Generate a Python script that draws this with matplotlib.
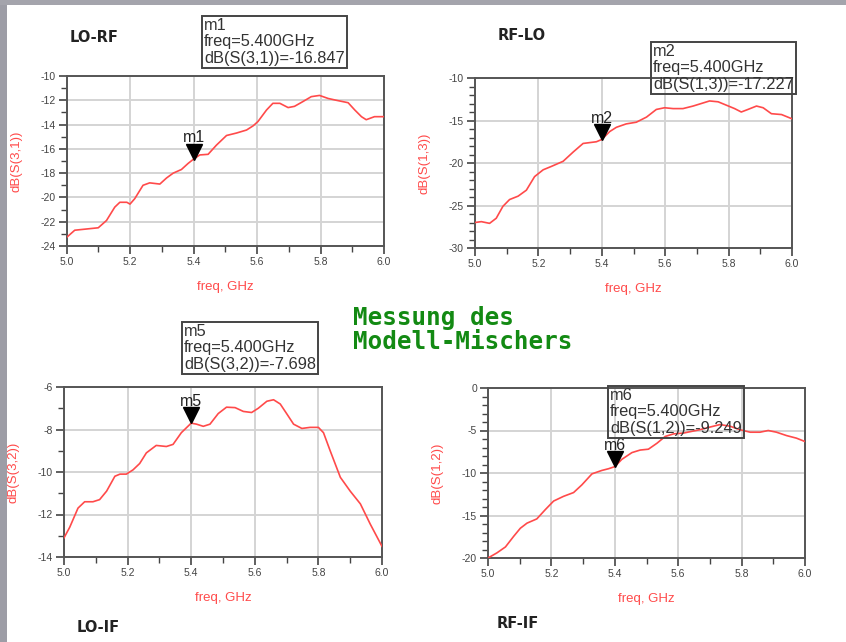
import matplotlib
matplotlib.use("Agg")
import matplotlib.pyplot as plt
from matplotlib.patches import Rectangle
from matplotlib.ticker import MultipleLocator, FormatStrFormatter
from matplotlib.transforms import offset_copy

plt.rcParams['font.family'] = ['Liberation Sans', 'DejaVu Sans']

W, H = 846, 642

# LO-RF  dB(S(3,1))
f31 = [5.0, 5.026, 5.063, 5.1, 5.126, 5.152, 5.168, 5.19, 5.2, 5.215, 5.241, 5.262, 5.294,
       5.315, 5.336, 5.362, 5.383, 5.4, 5.42, 5.446, 5.472, 5.504, 5.535, 5.567, 5.588,
       5.603, 5.63, 5.65, 5.672, 5.698, 5.718, 5.745, 5.771, 5.797, 5.824, 5.85, 5.887,
       5.908, 5.929, 5.944, 5.97, 6.0]
s31 = [-23.3, -22.7, -22.6, -22.5, -21.9, -20.8, -20.4, -20.4, -20.55, -20.1, -19.0, -18.8,
       -18.9, -18.4, -18.0, -17.7, -17.2, -16.85, -16.5, -16.45, -15.7, -14.9, -14.7, -14.45,
       -14.1, -13.75, -12.8, -12.25, -12.25, -12.6, -12.5, -12.1, -11.7, -11.6, -11.85,
       -12.0, -12.2, -12.8, -13.35, -13.6, -13.35, -13.35]

# RF-LO  dB(S(1,3))
f13 = [5.0, 5.02, 5.046, 5.067, 5.088, 5.109, 5.136, 5.162, 5.188, 5.215, 5.241, 5.278,
       5.31, 5.341, 5.383, 5.4, 5.425, 5.446, 5.477, 5.509, 5.541, 5.572, 5.598, 5.625,
       5.656, 5.688, 5.714, 5.74, 5.767, 5.793, 5.819, 5.84, 5.861, 5.888, 5.909, 5.935,
       5.967, 6.0]
s13 = [-27.0, -26.9, -27.1, -26.5, -25.1, -24.3, -23.9, -23.2, -21.6, -20.8, -20.4, -19.8,
       -18.7, -17.7, -17.5, -17.23, -16.3, -15.8, -15.4, -15.2, -14.6, -13.7, -13.5, -13.6,
       -13.6, -13.3, -13.0, -12.7, -12.8, -13.2, -13.6, -14.0, -13.7, -13.3, -13.5, -14.2,
       -14.3, -14.8]

# LO-IF  dB(S(3,2))
f32 = [5.0, 5.018, 5.044, 5.065, 5.091, 5.112, 5.134, 5.16, 5.176, 5.196, 5.217, 5.238,
       5.259, 5.29, 5.322, 5.343, 5.369, 5.4, 5.417, 5.438, 5.459, 5.485, 5.511, 5.538,
       5.564, 5.59, 5.611, 5.638, 5.659, 5.68, 5.7, 5.722, 5.748, 5.774, 5.8, 5.816, 5.837,
       5.869, 5.9, 5.932, 5.963, 6.0]
s32 = [-13.1, -12.6, -11.7, -11.4, -11.4, -11.3, -10.9, -10.2, -10.1, -10.1, -9.9, -9.6,
       -9.1, -8.75, -8.8, -8.7, -8.15, -7.7, -7.75, -7.85, -7.75, -7.25, -6.95, -6.97,
       -7.15, -7.2, -7.0, -6.67, -6.6, -6.8, -7.25, -7.75, -7.95, -7.9, -7.9, -8.15, -9.0,
       -10.25, -10.9, -11.5, -12.45, -13.5]

# RF-IF  dB(S(1,2))
f12 = [5.0, 5.028, 5.055, 5.081, 5.102, 5.123, 5.154, 5.181, 5.207, 5.238, 5.27, 5.296,
       5.328, 5.359, 5.38, 5.4, 5.422, 5.454, 5.48, 5.506, 5.533, 5.559, 5.585, 5.617,
       5.643, 5.669, 5.7, 5.732, 5.764, 5.794, 5.827, 5.858, 5.884, 5.91, 5.942, 5.973, 6.0]
s12 = [-20.0, -19.4, -18.7, -17.45, -16.5, -15.9, -15.4, -14.3, -13.3, -12.75, -12.3, -11.4,
       -10.1, -9.7, -9.5, -9.25, -8.4, -7.6, -7.3, -7.2, -6.5, -5.7, -5.4, -5.3, -5.1, -4.9,
       -4.6, -4.3, -4.5, -4.9, -5.2, -5.2, -5.0, -5.2, -5.6, -5.9, -6.3]

marker_freq = 5.4

fig = plt.figure(figsize=(W / 100, H / 100), dpi=100)
fig.patch.set_facecolor('white')

# grey slide frame on top and left
fig.patches.append(Rectangle((0, 0), 7 / W, 1, transform=fig.transFigure,
                             facecolor='#9d9da6', edgecolor='none', zorder=0))
fig.patches.append(Rectangle((0, 1 - 5 / H), 1, 5 / H, transform=fig.transFigure,
                             facecolor='#a4a4ac', edgecolor='none', zorder=0))


def px_axes(l, t, r, b):
    return fig.add_axes([l / W, 1 - b / H, (r - l) / W, (b - t) / H])


panels = [
    # (rect, freq, data, ylim, major, ylabel, marker name, readout, value text, box(l, t))
    ((66.5, 76, 384, 246), f31, s31, (-24, -10), 2, 'dB(S(3,1))', 'm1', -16.847,
     'dB(S(3,1))=-16.847', (200, 15)),
    ((475, 78, 792, 248), f13, s13, (-30, -10), 5, 'dB(S(1,3))', 'm2', -17.227,
     'dB(S(1,3))=-17.227', (649, 41)),
    ((64, 387, 382, 557), f32, s32, (-14, -6), 2, 'dB(S(3,2))', 'm5', -7.698,
     'dB(S(3,2))=-7.698', (180, 321)),
    ((488, 388, 805, 558), f12, s12, (-20, 0), 5, 'dB(S(1,2))', 'm6', -9.249,
     'dB(S(1,2))=-9.249', (606, 385)),
]

for rect, fx, sy, ylim, major, ylab, mname, mval, vtext, boxpos in panels:
    ax = px_axes(*rect)
    ax.plot(fx, sy, color='#ff4a4a', lw=1.2, zorder=3)
    ax.set_xlim(5.0, 6.0)
    ax.set_ylim(*ylim)
    ax.xaxis.set_major_locator(MultipleLocator(0.2))
    ax.xaxis.set_minor_locator(MultipleLocator(0.1))
    ax.yaxis.set_major_locator(MultipleLocator(major))
    ax.yaxis.set_minor_locator(MultipleLocator(1))
    ax.xaxis.set_major_formatter(FormatStrFormatter('%.1f'))
    ax.yaxis.set_major_formatter(FormatStrFormatter('%d'))
    ax.grid(True, which='major', color='#d4d4d4', lw=1.4)
    ax.set_axisbelow(True)
    for sp in ax.spines.values():
        sp.set_color('#555555')
        sp.set_linewidth(1.4)
    ax.tick_params(which='major', direction='out', length=6, width=1.2, color='#444444',
                   labelsize=7.5, labelcolor='#444444', pad=2)
    ax.tick_params(which='minor', direction='out', length=4, width=1.0, color='#444444')
    ax.set_xlabel('freq, GHz', color='#ff4a4a', fontsize=9.5, labelpad=10)
    ax.set_ylabel(ylab, color='#ff4a4a', fontsize=9.5)
    ax.yaxis.set_label_coords(-0.139, 0.5)

    # marker triangle with its tip on the trace
    tri = offset_copy(ax.transData, fig=fig, x=0, y=5.5, units='points')
    ax.plot([marker_freq], [mval], marker='v', ms=11, color='black',
            transform=tri, zorder=5, clip_on=False)
    lab = offset_copy(ax.transData, fig=fig, x=0, y=10, units='points')
    ax.text(marker_freq, mval, mname, transform=lab, ha='center', va='bottom',
            fontsize=11.5, color='#222222', zorder=5)

    # marker readout box
    bx, by = boxpos
    fig.text((bx + 4) / W, 1 - (by + 3) / H,
             f'{mname}\nfreq=5.400GHz\n{vtext}', ha='left', va='top',
             fontsize=11.8, color='#333333', linespacing=1.12,
             bbox=dict(boxstyle='square,pad=0.15', facecolor='none',
                       edgecolor='#444444', lw=1.4))

# panel titles
titles = ['LO-RF', 'RF-LO', 'LO-IF', 'RF-IF']
title_pos = [(94, 37), (522, 35), (98, 628), (518, 624)]
for t, (x, y) in zip(titles, title_pos):
    fig.text(x / W, 1 - y / H, t, ha='center', va='center', fontsize=10.5,
             fontweight='bold', color='#222222', family='DejaVu Sans')

fig.text(353 / W, 1 - 318 / H, 'Messung des', ha='left', va='center',
         fontsize=17.5, fontweight='bold', color='#138a13', family='DejaVu Sans Mono')
fig.text(353 / W, 1 - 342 / H, 'Modell-Mischers', ha='left', va='center',
         fontsize=17.5, fontweight='bold', color='#138a13', family='DejaVu Sans Mono')

fig.savefig('out.png', dpi=100)
